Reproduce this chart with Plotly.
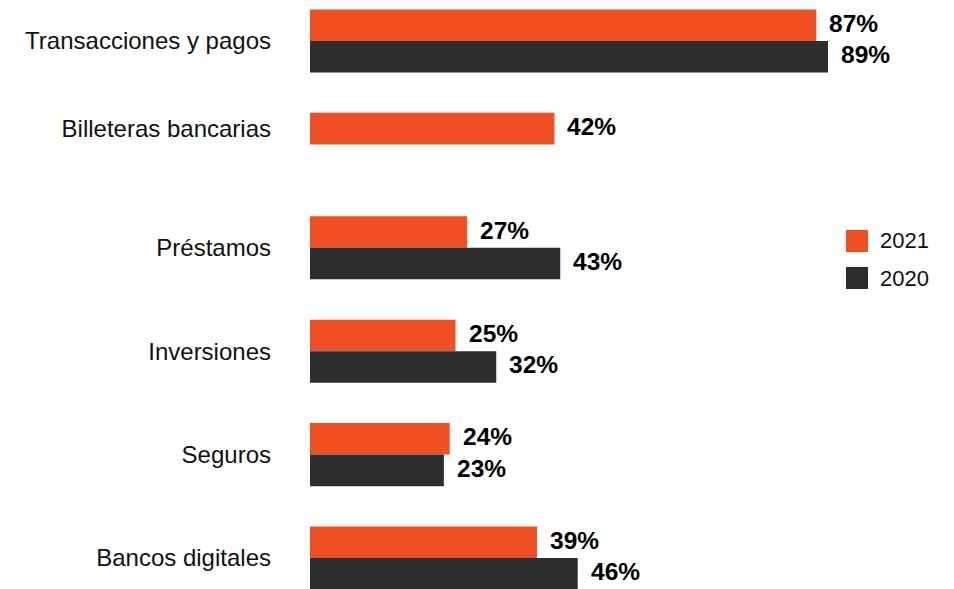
import plotly.graph_objects as go

# Categories (top to bottom) and adoption shares per year, in percent
categories = [
    "Transacciones y pagos",
    "Billeteras bancarias",
    "Préstamos",
    "Inversiones",
    "Seguros",
    "Bancos digitales",
]
values_2021 = [87, 42, 27, 25, 24, 39]
values_2020 = [89, None, 43, 32, 23, 46]
series_names = ["2021", "2020"]

ORANGE = "#F04E23"
DARK = "#2D2D2D"
FONT = "Helvetica, Arial, Liberation Sans, sans-serif"

W, H = 954, 589
LEFT, RIGHT = 310, 62
PX_PER_ROW = 103.4
FIRST_ROW_PX = 41
BAR = 0.305  # bar thickness in row units

rows = list(range(len(categories)))

fig = go.Figure()
fig.add_trace(go.Bar(
    y=rows, x=values_2021, orientation="h", name=series_names[0],
    marker=dict(color=ORANGE, line=dict(width=0)),
    width=BAR, offset=-BAR, showlegend=False, hoverinfo="skip",
))
fig.add_trace(go.Bar(
    y=rows, x=values_2020, orientation="h", name=series_names[1],
    marker=dict(color=DARK, line=dict(width=0)),
    width=BAR, offset=0, showlegend=False, hoverinfo="skip",
))

# Value labels next to each bar end
annotations = []
for i, (a, b) in enumerate(zip(values_2021, values_2020)):
    for val, yc in ((a, i - BAR / 2), (b, i + BAR / 2)):
        if val is None:
            continue
        annotations.append(dict(
            x=val, y=yc, xref="x", yref="y", text=f"<b>{val}%</b>",
            showarrow=False, xanchor="left", yanchor="middle",
            xshift=11, yshift=2,
            font=dict(family=FONT, size=24.5, color="#000000"),
        ))

# Tick label sits on the group centre, or on the single bar when one year is missing
tickvals = [i if b is not None else i - BAR / 2 for i, b in enumerate(values_2020)]

# Legend drawn as squares with year labels
plot_w = W - LEFT - RIGHT
def px_x(px):
    return (px - LEFT) / plot_w
def px_y(px):
    return 1 - px / H

shapes = []
for k, (name, col) in enumerate(zip(series_names, [ORANGE, DARK])):
    top = 230 + k * 37
    shapes.append(dict(
        type="rect", xref="paper", yref="paper",
        x0=px_x(846), x1=px_x(868), y0=px_y(top + 22), y1=px_y(top),
        fillcolor=col, line=dict(width=0),
    ))
    annotations.append(dict(
        x=px_x(878), y=px_y(top + 11), xref="paper", yref="paper", text=name,
        showarrow=False, xanchor="left", yanchor="middle",
        font=dict(family=FONT, size=22, color="#111111"),
    ))

y_top = -FIRST_ROW_PX / PX_PER_ROW
y_bottom = (H - FIRST_ROW_PX) / PX_PER_ROW

fig.update_layout(
    width=W, height=H,
    margin=dict(l=LEFT, r=RIGHT, t=0, b=0, pad=0),
    paper_bgcolor="white", plot_bgcolor="white",
    barmode="overlay",
    showlegend=False,
    annotations=annotations,
    shapes=shapes,
    xaxis=dict(range=[0, plot_w / 5.82], visible=False, fixedrange=True),
    yaxis=dict(
        range=[y_bottom, y_top],
        tickvals=tickvals, ticktext=categories,
        showgrid=False, zeroline=False, showline=False, ticks="",
        ticklabelstandoff=38,
        tickfont=dict(family=FONT, size=24, color="#111111"),
        fixedrange=True,
    ),
)

fig.write_html("out.html")
